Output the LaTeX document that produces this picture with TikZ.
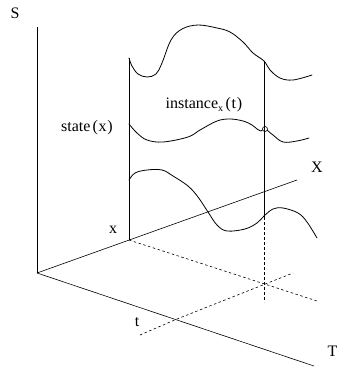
\documentclass[tikz,border=0pt]{standalone}
\usepackage{fontspec}
\setmainfont{Liberation Serif}
\begin{document}
\begin{tikzpicture}[x=1pt,y=-1pt,
  axis/.style={line width=0.6pt},
  curve/.style={line width=0.8pt,line join=round,line cap=round},
  guide/.style={line width=0.6pt,dash pattern=on 2.5pt off 2.5pt},
  lbl/.style={font=\fontsize{16}{18}\selectfont,inner sep=0pt}]
\useasboundingbox (0,0) rectangle (338,369);
% points
\coordinate (O) at (37,273);
\coordinate (Stop) at (37,27);
\coordinate (Xend) at (297,180);
\coordinate (Tend) at (314,366);
\coordinate (xp) at (129,240);
\coordinate (tp) at (177,319);
\coordinate (cr) at (264,284);
\coordinate (xtop) at (129,58);
\coordinate (rtop) at (264,61);
\coordinate (rbot) at (264,217);
\coordinate (rdash) at (264,302);
\coordinate (d1end) at (317,301);
\coordinate (d2a) at (140,335);
\coordinate (d2b) at (293,273);
% axes
\draw[axis] (Stop) -- (O);
\draw[axis] (O) -- (Xend);
\draw[axis] (O) -- (Tend);
% verticals
\draw[axis] (xtop) -- (xp);
\draw[axis] (rtop) -- (rbot);
% dashed guides
\draw[guide] (xp) -- (d1end);
\draw[guide] (d2a) -- (tp) -- (d2b);
\draw[guide] (rbot) -- (rdash);
% curves
\draw[curve] plot[smooth,tension=0.6] coordinates {(129,58) (132,66) (138,74) (147,77) (156,74) (162,63) (171,40) (182,29) (198,25) (217,28) (230,32) (243,42) (253,53) (264,61) (270,70) (280,78) (293,80) (312,75)};
\node[circle,draw,line width=0.6pt,inner sep=0pt,minimum size=5pt] (circ) at (265,129) {};
\draw[curve] plot[smooth,tension=0.6] coordinates {(129,124) (137,133) (147,140) (163,142) (188,137) (200,130) (217,121) (230,119) (243,121) (252,125) (257,129) (261,131) (262.5,130)};
\draw[curve] plot[smooth,tension=0.6] coordinates {(267.5,130.5) (273,135) (283,142) (297,141) (309,138)};
\draw[curve] plot[smooth,tension=0.6] coordinates {(129,180) (135,173) (147,170) (162,170) (173,176) (188,186) (198,197) (208,212) (217,225) (227,231) (245,229) (257,223) (264,216) (273,209) (283,208) (298,213) (307,222) (317,238)};
% labels
\node[lbl] (S) at (15,13) {S};
\node[lbl] (X) at (317,167) {X};
\node[lbl,anchor=east] (T) at (337.5,351) {T};
\node[lbl] (xl) at (113,230) {x};
\node[lbl] (tl) at (137,322) {t};
\node[lbl] (st) at (87,128) {state\kern2pt(\kern0.8pt x\kern0.8pt)};
\node[lbl] (in) at (204,105) {instance\textsubscript{\fontsize{10}{10}\selectfont x}\kern2pt(\kern0.8pt t\kern0.8pt)};
\end{tikzpicture}
\end{document}
